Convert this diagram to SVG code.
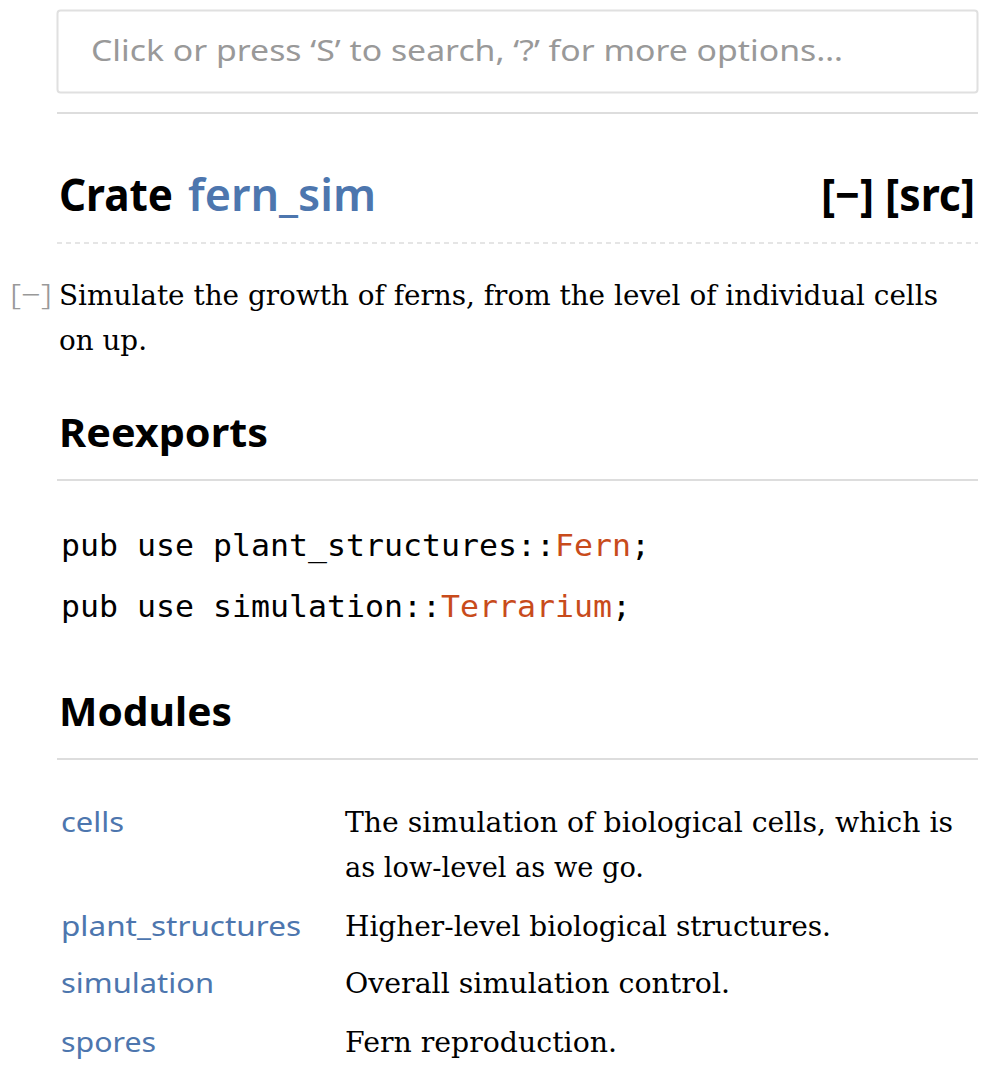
<svg xmlns="http://www.w3.org/2000/svg" width="982" height="1068" viewBox="0 0 982 1068">
<style>
.sans{font-family:"Noto Sans","Open Sans","Liberation Sans",sans-serif}
.serif{font-family:"DejaVu Serif","Liberation Serif",serif;font-size:27.5px;fill:#000}
.mono{font-family:"DejaVu Sans Mono","Liberation Mono",monospace;font-size:31px;fill:#000}
.h{font-weight:700;fill:#000}
.mod{fill:#4d76ae;font-size:28px}
.rule{stroke:#dddddd;stroke-width:2}
.str{fill:#c84b1b}
</style>
<rect width="982" height="1068" fill="#ffffff"/>
<g id="search">
<rect x="57.5" y="10.5" width="920" height="82" rx="3" fill="#fff" stroke="#e0e0e0" stroke-width="2"/>
<text class="sans" x="91" y="61" font-size="29" fill="#999999" textLength="752" lengthAdjust="spacingAndGlyphs">Click or press ‘S’ to search, ‘?’ for more options…</text>
</g>
<g id="rules">
<line class="rule" x1="57" y1="113" x2="978" y2="113"/>
<line x1="57" y1="243" x2="978" y2="243" stroke="#dddddd" stroke-width="1.5" stroke-dasharray="5 4"/>
<line class="rule" x1="57" y1="480" x2="978" y2="480"/>
<line class="rule" x1="57" y1="759" x2="978" y2="759"/>
</g>
<g id="title">
<text class="sans h" x="59" y="211" font-size="45" textLength="114" lengthAdjust="spacingAndGlyphs">Crate</text>
<text class="sans" x="188" y="211" font-size="45" font-weight="600" fill="#4d76ae" textLength="188" lengthAdjust="spacingAndGlyphs">fern_sim</text>
<text class="sans h" x="821" y="211" font-size="44" textLength="154" lengthAdjust="spacingAndGlyphs">[−] [src]</text>
</g>
<g id="docblock">
<text class="sans" x="10" y="305" font-size="29" font-weight="300" fill="#999999" textLength="42" lengthAdjust="spacingAndGlyphs">[−]</text>
<text class="serif" x="59" y="305" textLength="879" lengthAdjust="spacingAndGlyphs">Simulate the growth of ferns, from the level of individual cells</text>
<text class="serif" x="59" y="350" textLength="88" lengthAdjust="spacingAndGlyphs">on up.</text>
</g>
<g id="reexports">
<text class="sans h" x="59" y="447" font-size="39" textLength="209" lengthAdjust="spacingAndGlyphs">Reexports</text>
<text class="mono" x="61" y="556" textLength="589" lengthAdjust="spacingAndGlyphs">pub use plant_structures::<tspan class="str">Fern</tspan>;</text>
<text class="mono" x="61" y="617" textLength="570" lengthAdjust="spacingAndGlyphs">pub use simulation::<tspan class="str">Terrarium</tspan>;</text>
</g>
<g id="modules">
<text class="sans h" x="59" y="726" font-size="39" textLength="173" lengthAdjust="spacingAndGlyphs">Modules</text>
<g id="mod-cells">
<text class="sans mod" x="61" y="832" textLength="63" lengthAdjust="spacingAndGlyphs">cells</text>
<text class="serif" x="345" y="832" textLength="608" lengthAdjust="spacingAndGlyphs">The simulation of biological cells, which is</text>
<text class="serif" x="345" y="877" textLength="299" lengthAdjust="spacingAndGlyphs">as low-level as we go.</text>
</g>
<g id="mod-plant_structures">
<text class="sans mod" x="61" y="936" textLength="240" lengthAdjust="spacingAndGlyphs">plant_structures</text>
<text class="serif" x="345" y="936" textLength="486" lengthAdjust="spacingAndGlyphs">Higher-level biological structures.</text>
</g>
<g id="mod-simulation">
<text class="sans mod" x="61" y="993" textLength="153" lengthAdjust="spacingAndGlyphs">simulation</text>
<text class="serif" x="345" y="993" textLength="385" lengthAdjust="spacingAndGlyphs">Overall simulation control.</text>
</g>
<g id="mod-spores">
<text class="sans mod" x="61" y="1052" textLength="95" lengthAdjust="spacingAndGlyphs">spores</text>
<text class="serif" x="345" y="1052" textLength="272" lengthAdjust="spacingAndGlyphs">Fern reproduction.</text>
</g>
</g>
</svg>
